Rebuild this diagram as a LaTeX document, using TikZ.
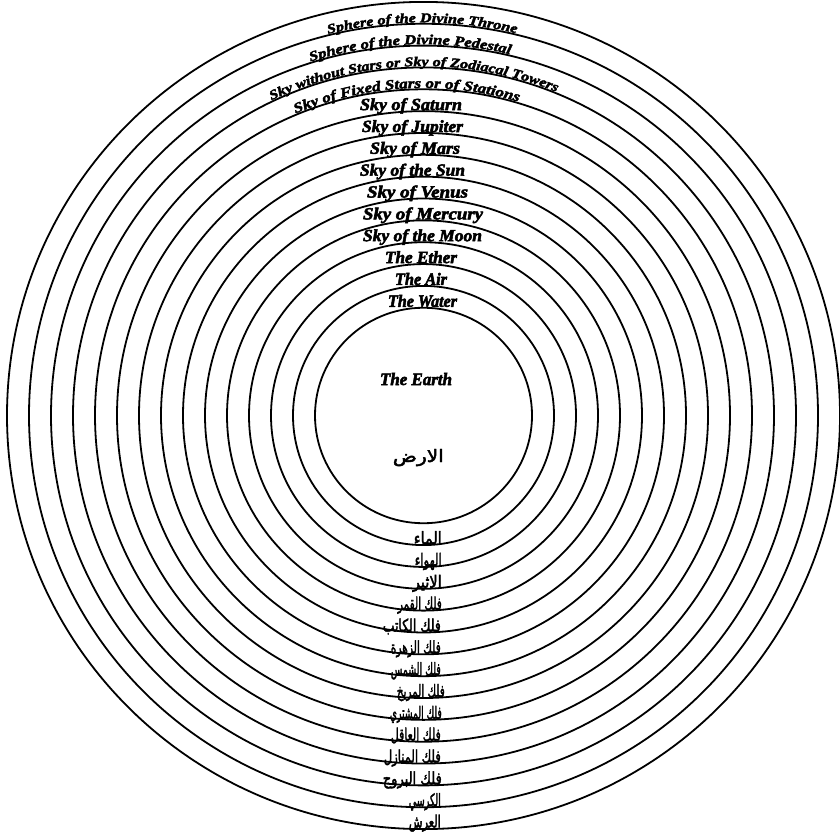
\documentclass[tikz,border=0pt]{standalone}
\usepackage{fontspec}
\usepackage{graphicx}
\usetikzlibrary{decorations.text}
\TeXXeTstate=1
\newfontfamily\engfont[BoldItalicFeatures={FakeBold=3}]{Liberation Serif}
\newfontfamily\engnarrow[BoldItalicFeatures={FakeBold=3,FakeStretch=1.2}]{Liberation Serif}
\newfontfamily\arabicfont[Script=Arabic,FakeBold=2.5]{DejaVu Sans}
\newcommand\englab[2]{\resizebox{#1pt}{12pt}{\engfont\bfseries\itshape\fontsize{18}{18}\selectfont #2}}
\newcommand\arlab[2]{\resizebox{#1pt}{13pt}{\arabicfont\fontsize{14}{14}\selectfont #2}}
\newcommand\cfFixed{\engnarrow\bfseries\itshape\fontsize{14.1}{14.1}\selectfont}
\newcommand\cfZod{\engnarrow\bfseries\itshape\fontsize{13.3}{13.3}\selectfont}
\newcommand\cfPed{\engnarrow\bfseries\itshape\fontsize{13.8}{13.8}\selectfont}
\newcommand\cfThr{\engnarrow\bfseries\itshape\fontsize{13.4}{13.4}\selectfont}
\tikzset{
  ring/.style={draw=black,line width=1.8pt},
  toplabel/.style={anchor=base,inner sep=0pt},
  botlabel/.style={anchor=base east,inner sep=0pt},
}
\begin{document}
\begin{tikzpicture}[x=1pt,y=1pt]
\useasboundingbox (0,0) rectangle (840,831);
\fill[white] (0,0) rectangle (840,831);
\coordinate (c) at (423.5,415.5);
% concentric spheres
\foreach \k in {0,...,14}{
  \pgfmathsetmacro\rx{108.5+22*\k}
  \pgfmathsetmacro\ry{0.993*\rx}
  \draw[ring] (c) ellipse [x radius=\rx, y radius=\ry];
}
% English labels (top)
\node[toplabel] (water)   at (422.5,524.2) {\englab{69}{The Water}};
\node[toplabel] (air)     at (421,546.1)   {\englab{52}{The Air}};
\node[toplabel] (ether)   at (421,567.9)   {\englab{72}{The Ether}};
\node[toplabel] (moon)    at (422.5,589.8) {\englab{119}{Sky of the Moon}};
\node[toplabel] (mercury) at (423,611.6)   {\englab{120}{Sky of Mercury}};
\node[toplabel] (venus)   at (417.5,633.5) {\englab{101}{Sky of Venus}};
\node[toplabel] (sun)     at (412.5,655.3) {\englab{105}{Sky of the Sun}};
\node[toplabel] (mars)    at (415,677.2)   {\englab{90}{Sky of Mars}};
\node[toplabel] (jupiter) at (412.5,699.0) {\englab{101}{Sky of Jupiter}};
\node[toplabel] (saturn)  at (411,720.9)   {\englab{102}{Sky of Saturn}};
% curved outer labels
\path[shift={(423.5,415.5)}, decorate, decoration={text along path, text align=center, raise=1.5pt,
  text={|\cfFixed|Sky of Fixed Stars or of Stations}}]
  (123.05:328.5 and 326.2) arc[start angle=123.05, end angle=63.05, x radius=328.5, y radius=326.2];
\path[shift={(423.5,415.5)}, decorate, decoration={text along path, text align=center, raise=1.5pt,
  text={|\cfZod|Sky without Stars or Sky of Zodiacal Towers}}]
  (121.7:350.5 and 348.05) arc[start angle=121.7, end angle=61.7, x radius=350.5, y radius=348.05];
\path[shift={(423.5,415.5)}, decorate, decoration={text along path, text align=center, raise=1.5pt,
  text={|\cfPed|Sphere of the Divine Pedestal}}]
  (122.1:372.5 and 369.89) arc[start angle=122.1, end angle=62.1, x radius=372.5, y radius=369.89];
\path[shift={(423.5,415.5)}, decorate, decoration={text along path, text align=center, raise=1.5pt,
  text={|\cfThr|Sphere of the Divine Throne}}]
  (120.2:394.5 and 391.74) arc[start angle=120.2, end angle=60.2, x radius=394.5, y radius=391.74];
% Earth
\node[toplabel] (earth) at (416,446) {\englab{72}{The Earth}};
\node[botlabel] (ardh) at (444,369) {\arlab{51}{\beginR الارض\endR}};
% Arabic labels (bottom)
\node[botlabel] (a0)  at (442,286.9) {\arlab{28}{\beginR الماء\endR}};
\node[botlabel] (a1)  at (442,265.1) {\arlab{27}{\beginR الهواء\endR}};
\node[botlabel] (a2)  at (442,243.2) {\arlab{29}{\beginR الاثير\endR}};
\node[botlabel] (a3)  at (442,221.4) {\arlab{44}{\beginR فلك القمر\endR}};
\node[botlabel] (a4)  at (441,199.5) {\arlab{58}{\beginR فلك الكاتب\endR}};
\node[botlabel] (a5)  at (441,177.7) {\arlab{50}{\beginR فلك الزهرة\endR}};
\node[botlabel] (a6)  at (441,155.8) {\arlab{50}{\beginR فلك الشمس\endR}};
\node[botlabel] (a7)  at (445,134.0) {\arlab{48}{\beginR فلك المريخ\endR}};
\node[botlabel] (a8)  at (442,112.2) {\arlab{52}{\beginR فلك المشتري\endR}};
\node[botlabel] (a9)  at (441,90.3)  {\arlab{50}{\beginR فلك العاقل\endR}};
\node[botlabel] (a10) at (441,68.5)  {\arlab{57}{\beginR فلك المنازل\endR}};
\node[botlabel] (a11) at (442,46.6)  {\arlab{59}{\beginR فلك البروج\endR}};
\node[botlabel] (a12) at (441,24.8)  {\arlab{32}{\beginR الكرسي\endR}};
\node[botlabel] (a13) at (441,3.5)   {\arlab{32}{\beginR العرش\endR}};
\end{tikzpicture}
\end{document}
